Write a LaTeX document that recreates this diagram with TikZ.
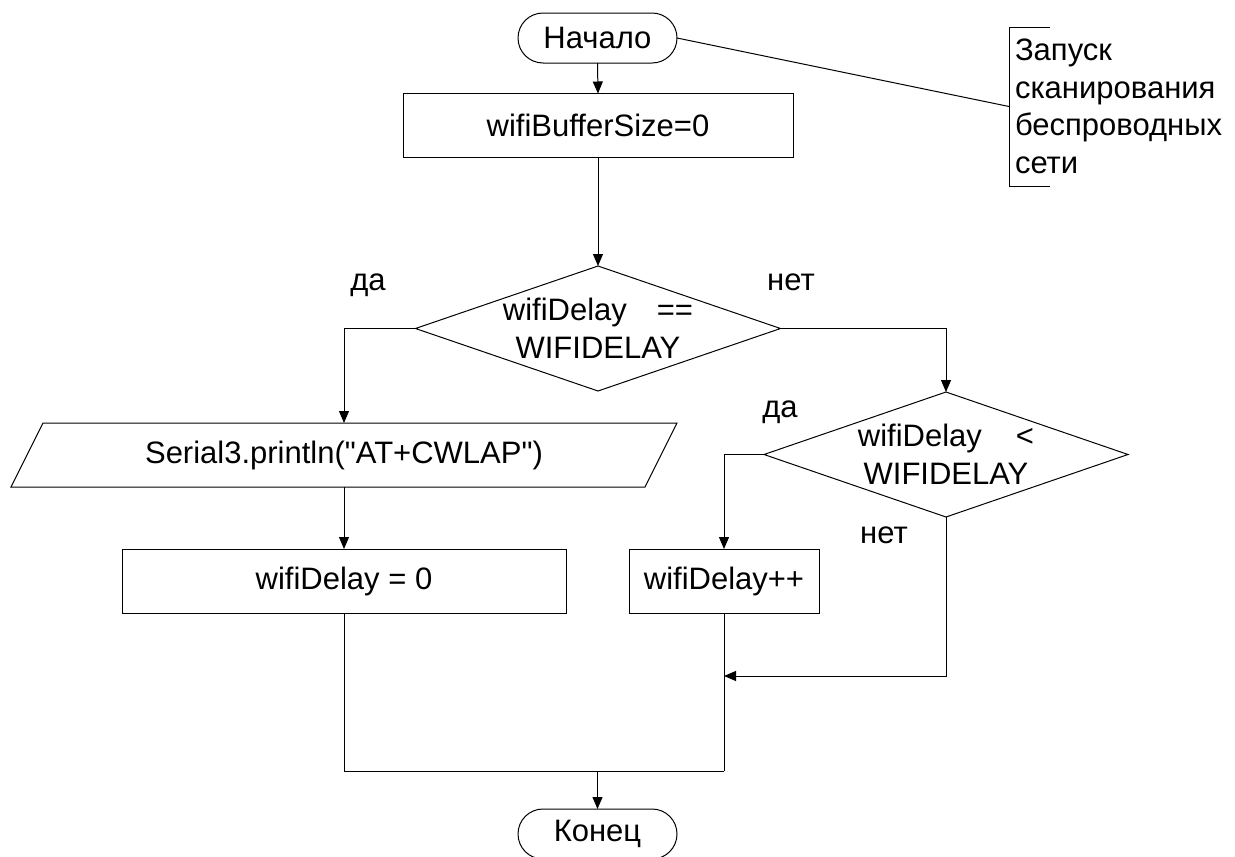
\documentclass[tikz,border=0pt]{standalone}
\usepackage{fontspec}
\setmainfont{Liberation Sans}[Ligatures=TeXOff]
\usetikzlibrary{arrows.meta}
\begin{document}
\begin{tikzpicture}[x=1pt,y=-1pt,
  every node/.style={inner sep=0pt, outer sep=0pt, font=\fontsize{31}{37.5}\selectfont},
  line/.style={line width=1pt, draw=black},
  flow/.style={line, -{Triangle[length=12pt,width=10pt]}},
  term/.style={draw, line width=1pt, rounded corners=25pt, minimum width=159pt, minimum height=50pt},
  proc/.style={draw, line width=1pt, minimum height=64pt},
  cond/.style={minimum width=365pt, minimum height=125pt, align=center},
  lbl/.style={anchor=base}
]
\useasboundingbox (0,0) rectangle (1235,857);
\clip (0,0) rectangle (1235,857);

% blocks
\node[term] (start) at (597.5,38) {Начало};
\node[proc, minimum width=390pt] (b1) at (598,125.5) {wifiBufferSize=0};
\node[cond] (d1) at (598,328.5) {wifiDelay\hspace{30pt}==\\WIFIDELAY};
\node[minimum width=634pt, minimum height=64pt] (io) at (344,455) {Serial3.println("AT+CWLAP")};
\node[proc, minimum width=444pt] (b2) at (344,581) {wifiDelay = 0};
\node[cond, minimum width=364pt] (d2) at (946,454.5) {wifiDelay\hspace{34pt}<\\WIFIDELAY};
\node[proc, minimum width=190pt] (b3) at (724,581) {wifiDelay++};
\node[term] (end) at (597.5,834) {Конец};

% decision and input/output outlines
\draw[line] (d1.north) -- (d1.east) -- (d1.south) -- (d1.west) -- cycle;
\draw[line] (d2.north) -- (d2.east) -- (d2.south) -- (d2.west) -- cycle;
\draw[line] ([xshift=16pt]io.north west) -- ([xshift=16pt]io.north east)
  -- ([xshift=-16pt]io.south east) -- ([xshift=-16pt]io.south west) -- cycle;

% comment
\node[anchor=north west, minimum height=159pt, inner xsep=6pt, align=left] (note) at (1009,27)
  {Запуск\\сканирования\\беспроводных\\сети};
\draw[line] ([xshift=41pt]note.north west) -- (note.north west) -- (note.south west) -- ([xshift=41pt]note.south west);
\draw[line] (start.east) -- (note.west);

% branch labels
\node[lbl] (yes1) at (368,290) {да};
\node[lbl] (no1) at (791,290) {нет};
\node[lbl] (yes2) at (780,417) {да};
\node[lbl] (no2) at (884,543) {нет};

% junction points
\coordinate (j1) at (724,676);
\coordinate (j2) at (724,771);
\coordinate (j3) at (end.north |- j2);

% connectors
\draw[flow] (start.south) -- (b1.north);
\draw[flow] (b1.south) -- (d1.north);
\draw[flow] (d1.west) -| (io.north);
\draw[flow] (io.south) -- (b2.north);
\draw[flow] (d1.east) -| (d2.north);
\draw[flow] (d2.west) -| (b3.north);
\draw[flow] (d2.south) |- (j1);
\draw[line] (b3.south) -- (j2);
\draw[line] (b2.south) |- (j2);
\draw[flow] (j3) -- (end.north);
\end{tikzpicture}
\end{document}
